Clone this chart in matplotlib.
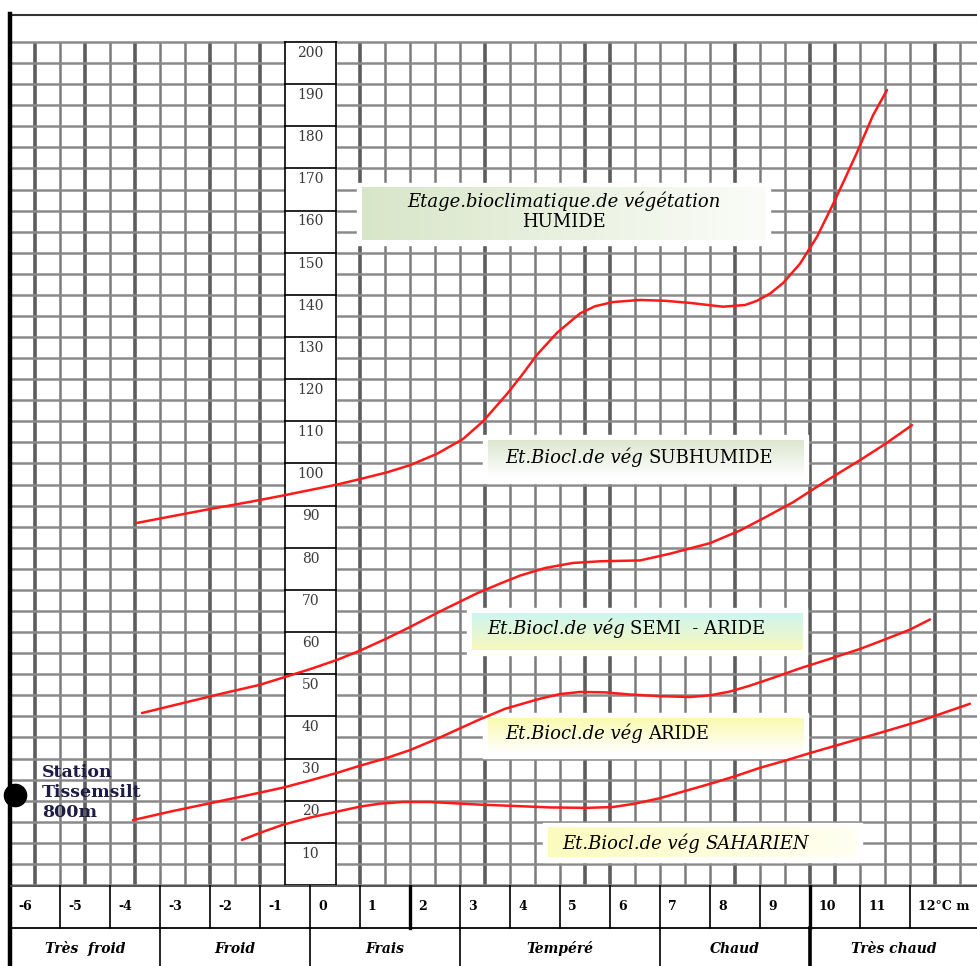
import numpy as np
import matplotlib
matplotlib.use("Agg")
import matplotlib.pyplot as plt
from matplotlib.colors import to_rgb

# ---- Emberger climagram: Q2 (ordinate) vs m, mean minimum of the coldest month (°C)
q_ticks = list(range(10, 201, 10))
t_ticks = list(range(-6, 13))
t_labels = [str(t) for t in t_ticks[:-1]] + ["12°C m"]

zone_names = ["Très  froid", "Froid", "Frais", "Tempéré", "Chaud", "Très chaud"]
zone_edges = [-6, -3, 0, 3, 7, 10, 13.34]

# Boundary between humid and sub-humid stages
humide_m = [-3.46, -2.8, -2.0, -1.2, -0.54, 0.0, 0.54, 1.0, 1.54, 2.0, 2.54, 3.06,
            3.46, 3.94, 4.24, 4.54, 4.94, 5.4, 5.7, 6.06, 6.6, 7.1, 7.6, 8.26, 8.7,
            8.94, 9.2, 9.46, 9.8, 10.14, 10.46, 10.7, 10.94, 11.26, 11.54]
humide_q = [85.9, 87.4, 89.2, 90.9, 92.4, 93.7, 95.0, 96.3, 97.9, 99.6, 102.3, 105.8,
            110.0, 116.5, 121.0, 125.8, 131.0, 135.6, 137.3, 138.3, 138.8, 138.6, 138.1,
            137.2, 137.6, 138.6, 140.3, 142.8, 147.4, 153.8, 161.5, 167.6, 173.8, 182.6,
            188.6]

# Boundary between sub-humid and semi-arid stages
subhum_m = [-3.36, -2.6, -1.8, -1.0, -0.54, 0.0, 0.54, 1.0, 1.5, 2.0, 2.6, 3.34, 3.8,
            4.2, 4.7, 5.26, 5.8, 6.6, 7.2, 8.0, 8.6, 9.1, 9.66, 10.34, 11.0, 11.5, 12.04]
subhum_q = [40.8, 43.0, 45.3, 47.5, 49.2, 51.2, 53.4, 55.6, 58.3, 61.2, 64.9, 69.2, 71.5,
            73.4, 75.2, 76.4, 76.8, 77.0, 78.6, 81.1, 84.1, 87.2, 90.8, 96.0, 100.8,
            104.6, 109.1]

# Boundary between semi-arid and arid stages
semi_m = [-3.54, -2.8, -2.0, -1.2, -0.54, 0.0, 0.54, 1.0, 1.5, 2.0, 2.6, 3.34, 3.9,
          4.6, 5.0, 5.4, 5.9, 6.4, 7.0, 7.6, 8.0, 8.4, 8.8, 9.2, 9.8, 10.46, 11.0,
          11.4, 12.0, 12.4]
semi_q = [15.4, 17.4, 19.4, 21.4, 23.1, 24.8, 26.6, 28.3, 30.0, 32.0, 35.0, 39.0, 41.8,
          44.2, 45.3, 45.8, 45.7, 45.2, 44.8, 44.6, 45.0, 45.9, 47.3, 48.9, 51.4, 53.9,
          56.0, 57.8, 60.6, 63.0]

# Boundary between arid and saharan stages
arid_m = [-1.36, -0.9, -0.54, 0.0, 0.54, 1.0, 1.4, 1.86, 2.4, 3.34, 4.2, 4.8, 5.54,
          6.06, 6.5, 7.0, 7.5, 8.06, 8.5, 9.0, 9.5, 10.0, 10.7, 11.4, 12.2, 13.2]
arid_q = [10.7, 12.8, 14.3, 16.0, 17.4, 18.6, 19.3, 19.7, 19.7, 19.1, 18.7, 18.4, 18.3,
          18.5, 19.3, 20.6, 22.3, 24.2, 25.8, 27.8, 29.5, 31.3, 33.7, 36.1, 38.9, 43.0]

station_name = "Station\nTissemsilt\n800m"
station_m, station_q = -5.9, 21.4

W, H = 977, 966
fig = plt.figure(figsize=(W / 100, H / 100), dpi=100)
fig.patch.set_facecolor("white")

XMIN, XMAX = -6.0, 13.34
QTOP = 206.64
ax = fig.add_axes([10 / W, 81 / H, 967 / W, 871 / H])
ax.set_xlim(XMIN, XMAX)
ax.set_ylim(0, QTOP)
ax.axis("off")

COL_L, COL_R = -0.5, 0.52
GRID_V = "#7b7b7b"
GRID_H = "#8a8a8a"
dark_cols = {-5.5, -4.5, -3.5, -2.0, -1.0, 1.0, 3.5, 5.5, 6.0, 8.5, 10.0, 10.5, 12.5}

# paper grid: one vertical line per 0.5 °C, one horizontal line per 5 units of Q2
for xv in np.arange(-5.5, 13.01, 0.5):
    if COL_L - 0.01 <= xv <= COL_R + 0.01:
        continue
    dark = round(xv, 1) in dark_cols
    ax.plot([xv, xv], [0, 200], color="#5c5c5c" if dark else GRID_V,
            lw=2.6 if dark else 1.8, zorder=1, solid_capstyle="butt")
for qv in np.arange(0, 201, 5):
    ax.plot([XMIN, COL_L], [qv, qv], color=GRID_H, lw=1.8, zorder=1)
    ax.plot([COL_R, XMAX], [qv, qv], color=GRID_H, lw=1.8, zorder=1)

# Q2 scale column
ax.fill_between([COL_L, COL_R], 0, 200, color="white", zorder=2)
ax.plot([COL_L, COL_L], [0, 200], color="black", lw=1.2, zorder=3)
ax.plot([COL_R, COL_R], [0, 200], color="black", lw=1.2, zorder=3)
for qv in [0] + q_ticks:
    ax.plot([COL_L, COL_R], [qv, qv], color="black", lw=1.2, zorder=3)
for qv in q_ticks:
    ax.text((COL_L + COL_R) / 2, qv - 0.9, str(qv), ha="center", va="top",
            fontsize=10, family="DejaVu Serif", color="#3a3a3a", zorder=4)


def gradient_box(x0, x1, y0, y1, c_start, c_end, direction="v", pad=(0.1, 1.2)):
    """Filled label box with a linear colour ramp (top->bottom or left->right)."""
    ax.fill_between([x0 - pad[0], x1 + pad[0]], y0 - pad[1], y1 + pad[1],
                    color="white", zorder=5)
    a, b = np.array(to_rgb(c_start)), np.array(to_rgb(c_end))
    t = np.linspace(0, 1, 64)
    ramp = a[None, :] * (1 - t[:, None]) + b[None, :] * t[:, None]
    img = ramp[:, None, :] if direction == "v" else ramp[None, :, :]
    ax.imshow(img, extent=[x0, x1, y0, y1], origin="upper", aspect="auto",
              interpolation="bilinear", zorder=6)


def stage_label(x, y, lead, name, name_style="normal"):
    t1 = ax.text(x, y, lead, ha="left", va="center", fontsize=13,
                 family="DejaVu Serif", style="italic", zorder=8)
    ax.annotate(name, xy=(1, 0), xycoords=t1, ha="left", va="bottom", fontsize=13,
                family="DejaVu Serif", style=name_style, zorder=8)


# stage boxes
gradient_box(1.04, 9.1, 153.0, 165.4, "#d8e6c8", "#fbfcf8", direction="h")
ax.text(5.07, 162.3, "Etage.bioclimatique.de végétation", ha="center", va="center",
        fontsize=13, family="DejaVu Serif", style="italic", zorder=8)
ax.text(5.07, 157.3, "HUMIDE", ha="center", va="center", fontsize=13,
        family="DejaVu Serif", zorder=8)

gradient_box(3.56, 9.86, 96.6, 105.6, "#dde7d0", "#ffffff")
stage_label(3.9, 101.5, "Et.Biocl.de vég ", "SUBHUMIDE")

gradient_box(3.24, 9.84, 55.8, 64.5, "#cdf6f0", "#f8f8bd")
stage_label(3.54, 61.0, "Et.Biocl.de vég ", "SEMI  - ARIDE")

gradient_box(3.56, 9.86, 31.3, 39.6, "#fafab0", "#ffffff")
stage_label(3.9, 36.1, "Et.Biocl.de vég ", "ARIDE")

gradient_box(4.76, 10.94, 6.6, 13.5, "#fbfbbf", "#fffff2", direction="h")
stage_label(5.04, 10.0, "Et.Biocl.de vég ", "SAHARIEN", name_style="italic")

# stage boundaries
for mm, qq in [(humide_m, humide_q), (subhum_m, subhum_q),
               (semi_m, semi_q), (arid_m, arid_q)]:
    ax.plot(mm, qq, color="#ff1a1a", lw=1.8, zorder=7,
            solid_capstyle="round", solid_joinstyle="round")

# station
ax.plot([station_m], [station_q], "o", color="black", ms=16, clip_on=False, zorder=9)
ax.text(-5.36, station_q + 0.5, station_name, ha="left", va="center", fontsize=12.5,
        family="DejaVu Serif", weight="bold", color="#1c1c44",
        linespacing=1.25, zorder=9)

# outer frame: heavy left edge, thin top edge
ax.plot([XMIN, XMAX], [QTOP - 0.2, QTOP - 0.2], color="#333333", lw=1.5,
        clip_on=False, zorder=9)
ax.plot([XMIN, XMIN], [-81 / 4.215, QTOP], color="black", lw=3.2,
        clip_on=False, zorder=9)

# ---- temperature scale and thermal zones
bx = fig.add_axes([10 / W, 0, 967 / W, 81 / H])
bx.set_xlim(XMIN, XMAX)
bx.set_ylim(0, 81)
bx.axis("off")
bx.plot([XMIN, XMAX], [80.5, 80.5], color="#444444", lw=1.3)
bx.plot([XMIN, XMAX], [38, 38], color="black", lw=1.3)
for t, lab in zip(t_ticks, t_labels):
    if t > -6:
        bx.plot([t, t], [38, 81], color="black", lw=2.4 if t in (2, 10) else 1.2)
    bx.text(t + 0.16, 59, lab, ha="left", va="center", fontsize=9,
            family="DejaVu Serif", weight="bold")
for z, name in enumerate(zone_names):
    x0, x1 = zone_edges[z], zone_edges[z + 1]
    if z > 0:
        bx.plot([x0, x0], [0, 38], color="black", lw=2.6 if x0 == 10 else 1.2)
    bx.text((x0 + x1) / 2, 17, name, ha="center", va="center", fontsize=10,
            family="DejaVu Serif", weight="bold", style="italic")

fig.savefig("out.png", dpi=100, facecolor="white")
